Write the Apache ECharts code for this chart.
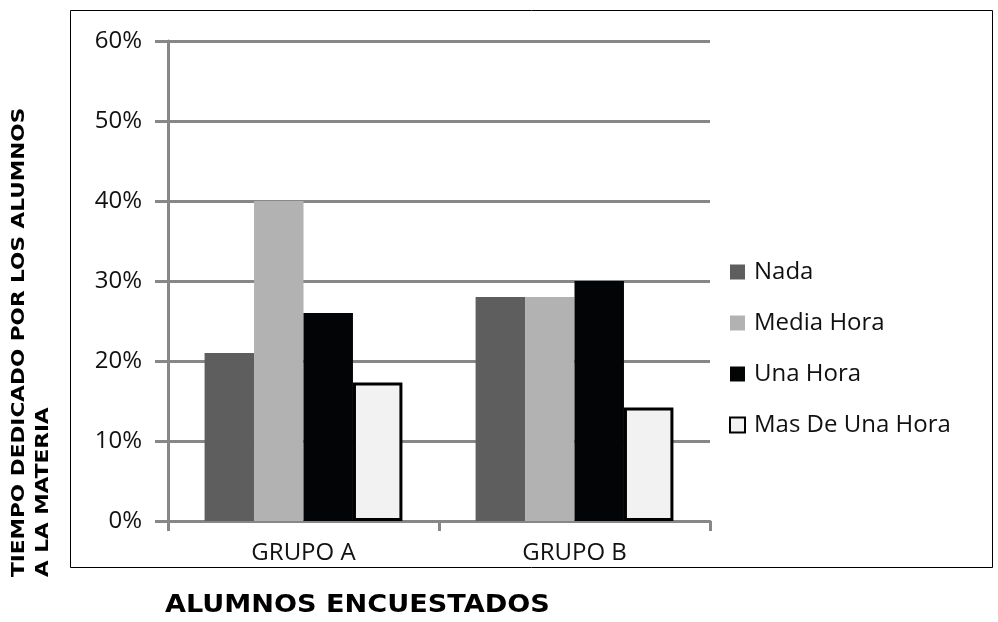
<!DOCTYPE html>
<html><head><meta charset="utf-8">
<script src="https://cdn.jsdelivr.net/npm/echarts@6/dist/echarts.min.js"></script>
<style>html,body{margin:0;padding:0;background:#fff}#c{width:998px;height:622px}</style>
</head><body><div id="c"></div>
<script>
const categories = ['GRUPO A', 'GRUPO B'];
const nada = [21, 28];
const mediaHora = [40, 28];
const unaHora = [26, 30];
const masDeUnaHora = [17.3, 14.2];
const yTicks = [0, 10, 20, 30, 40, 50, 60];

const chart = echarts.init(document.getElementById('c'));
const grey = '#878787';
const lblFont = '"Open Sans", "Noto Sans", sans-serif';
chart.setOption({
  animation: false,
  backgroundColor: '#fff',
  grid: { left: 168, right: 288, top: 41, bottom: 101 },
  legend: {
    orient: 'vertical', left: 729, top: 260, padding: 0,
    itemWidth: 15, itemHeight: 15, itemGap: 27,
    icon: 'rect',
    textStyle: { fontSize: 24, lineHeight: 24, color: '#111', fontFamily: lblFont, padding: [0, 0, 0, 4] },
    data: ['Nada', 'Media Hora', 'Una Hora', 'Mas De Una Hora']
  },
  xAxis: {
    type: 'category', data: categories,
    axisLine: { lineStyle: { color: grey, width: 3 } },
    axisTick: { show: true, length: 10, lineStyle: { color: grey, width: 3 } },
    axisLabel: { fontSize: 24, color: '#111', margin: 20, fontFamily: lblFont }
  },
  yAxis: {
    type: 'value', min: yTicks[0], max: yTicks[yTicks.length - 1], interval: 10,
    axisLine: { show: true, lineStyle: { color: grey, width: 3 } },
    axisTick: { show: true, length: 13, lineStyle: { color: grey, width: 3 } },
    splitLine: { lineStyle: { color: grey, width: 3 } },
    axisLabel: { formatter: '{value}%', fontSize: 24, color: '#111', margin: 26, fontFamily: lblFont }
  },
  series: [
    { name: 'Nada', type: 'bar', data: nada, barGap: '0%', barCategoryGap: '27%',
      itemStyle: { color: '#5d5e5d' } },
    { name: 'Media Hora', type: 'bar', data: mediaHora, itemStyle: { color: '#b2b2b2' } },
    { name: 'Una Hora', type: 'bar', data: unaHora, itemStyle: { color: '#030405' } },
    { name: 'Mas De Una Hora', type: 'bar', data: masDeUnaHora,
      itemStyle: { color: '#f2f2f2', borderColor: '#000', borderWidth: 3 } }
  ],
  graphic: [
    { type: 'rect', shape: { x: 70.5, y: 10.5, width: 922, height: 557 },
      style: { fill: 'none', stroke: '#000', lineWidth: 1 }, z: -1 },
    { type: 'text', x: 19, y: 577, rotation: Math.PI / 2, scaleX: 1.2,
      style: { text: 'TIEMPO DEDICADO POR LOS ALUMNOS', font: 'bold 18px "DejaVu Sans"', fill: '#000',
        textAlign: 'left', textVerticalAlign: 'middle' } },
    { type: 'text', x: 43, y: 577, rotation: Math.PI / 2, scaleX: 1.2,
      style: { text: 'A LA MATERIA', font: 'bold 18px "DejaVu Sans"', fill: '#000',
        textAlign: 'left', textVerticalAlign: 'middle' } },
    { type: 'text', x: 165, y: 606, scaleX: 1.13,
      style: { text: 'ALUMNOS ENCUESTADOS', font: 'bold 24px "DejaVu Sans"', fill: '#000',
        textAlign: 'left', textVerticalAlign: 'middle' } }
  ]
});
</script></body></html>
